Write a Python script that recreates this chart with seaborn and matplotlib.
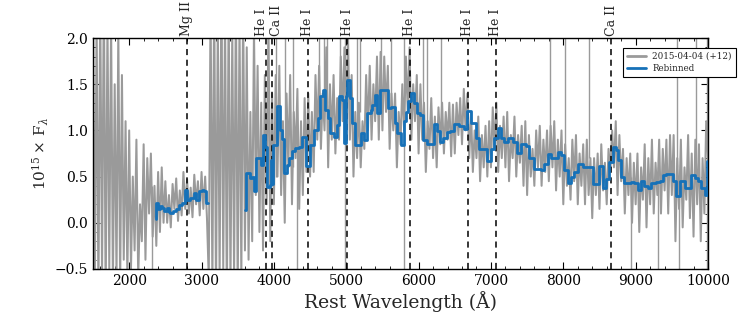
import numpy as np
import pandas as pd
import matplotlib
matplotlib.use('Agg')
import matplotlib.pyplot as plt
import seaborn as sns
from matplotlib.ticker import MultipleLocator

# ---------------- data ----------------
# observed spectrum, 25 A sampling 1500..10000
gray_wave = np.arange(1500, 10001, 25)
gray_flux = (
    [2.3, -0.7, 2.2, -0.8, 2.4, -0.6, 2.6, -0.9, 2.2, -0.5, 2.2, -0.7, 1.5, -0.6, 2.1, -0.7, 1.6, -0.4, 1.1, -0.6]
    + [1.0, -0.5, 0.5, -0.3, 0.9, -0.6, 0.2, -0.2, 0.85, -0.4, 0.7, 0.1, 0.75, -0.15, 0.4, -0.25, 0.55, -0.1, 0.6, 0.0]
    + [0.45, 0.0, 0.3, -0.05, 0.42, 0.15, 0.48, 0.02, 0.35, 0.08, 0.55, 0.15, 0.47, 0.1, 0.38, 0.06, 0.52, 0.2, 0.45, 0.08]
    + [0.55, 0.15, 0.5, 0.05, -0.6, 2.4, -0.7, 2.5, -0.8, 2.2, -0.6, 2.6, -0.5, 2.3, -0.9, 2.4, -0.7, 2.1, -0.6, 2.5]
    + [-0.8, 2.2, -0.6, 2.4, -0.3, 1.9, -0.4, 1.2, -0.2, 2.1, 0.3, 1.7, -0.1, 1.3, -0.3, 1.6, 0.2, 2.2, -0.2, 1.4]
    + [0.2, 1.6, 0.5, 1.7, 0.3, 1.1, 0.0, 1.4, 0.6, 1.6, 0.2, 1.2, 0.7, 1.45, 0.15, 1.1, 0.3, 1.35, 0.55, 1.4]
    + [0.5, 1.2, 0.55, 1.6, 0.9, 1.7, 0.8, 1.4, 1.0, 1.9, 0.6, 1.5, 0.9, 1.6, 0.75, 1.35, 0.9, 1.8, 1.1, 1.9]
    + [1.0, 2.0, 0.9, 1.6, 0.5, 1.2, 0.7, 1.3, 0.6, 1.1, 0.8, 1.6, 1.0, 1.7, 0.9, 1.5, 1.1, 1.8, 0.9, 1.85]
    + [1.0, 1.8, 1.2, 1.7, 0.8, 1.4, 1.0, 1.4, 0.6, 1.2, 0.85, 1.5, 1.0, 1.8, 1.2, 1.9, 0.9, 1.5, 1.1, 1.6]
    + [0.75, 1.5, 0.9, 1.3, 0.55, 1.1, 0.8, 1.35, 0.7, 1.15, 0.6, 1.25, 0.85, 1.3, 0.75, 1.2, 0.9, 1.3, 0.72, 1.28]
    + [0.75, 1.3, 0.95, 1.35, 0.85, 1.45, 1.0, 1.4, 0.7, 1.2, 0.55, 1.0, 0.7, 1.15, 0.45, 0.95, 0.6, 1.05, 0.5, 1.1]
    + [0.6, 1.25, 0.8, 1.3, 0.55, 1.05, 0.7, 1.15, 0.6, 1.2, 0.45, 0.95, 0.7, 1.15, 0.5, 0.95, 0.65, 1.05, 0.4, 1.1]
    + [0.3, 0.95, 0.5, 0.8, 0.4, 1.0, 0.6, 1.05, 0.4, 0.9, 0.55, 1.0, 0.45, 1.05, 0.6, 1.1, 0.35, 0.9, 0.5, 1.0]
    + [0.2, 0.85, 0.4, 0.7, 0.25, 0.9, 0.45, 0.95, 0.2, 0.75, 0.4, 0.85, 0.2, 0.9, 0.3, 0.7, 0.05, 0.7, 0.3, 0.75]
    + [0.15, 0.85, 0.35, 0.65, 0.2, 0.8, 0.55, 1.0, 0.6, 1.1, 0.3, 0.95, 0.45, 0.8, 0.1, 0.7, 0.3, 0.75, 0.0, 0.65]
    + [0.2, 0.75, -0.1, 0.6, 0.25, 0.85, -0.05, 0.7, 0.2, 0.9, 0.1, 0.65, 0.3, 0.9, 0.1, 0.8, 0.35, 0.9, 0.1, 0.95]
    + [0.3, 0.95, -0.2, 0.7, 0.15, 0.9, -0.05, 0.6, 0.25, 0.95, 0.05, 0.75, -0.15, 0.9, 0.2, 0.85, -0.2, 0.7, 0.1, 1.1]
    + [0.7]
)

# isolated spikes (sky / cosmic residuals) in the observed spectrum
spike_wave = [2310, 4030, 4155, 4270, 4320, 4630, 4686, 4732, 4917, 4980,
              5147, 5194, 5476, 5614, 5799, 6060, 6121, 6310, 7820, 8023,
              8360, 8937, 9307, 9575, 9600, 9838, 9990]
spike_low = [-0.5, 0.5, 0.6, 0.6, -0.5, 1.2, 1.3, 1.3, 1.3, -0.5,
             1.0, 1.2, 1.3, 1.3, -0.5, 1.0, 1.0, 1.0, 0.8, 0.7,
             0.7, -0.5, -0.5, 0.6, -0.5, 0.6, -0.5]
spike_high = [0.4, 2.0, 2.0, 2.0, 1.0, 2.0, 2.0, 2.0, 2.0, 2.0,
              2.0, 2.0, 2.0, 2.0, 2.0, 2.0, 2.0, 2.0, 2.0, 2.0,
              2.0, 0.5, 0.6, 2.0, 0.3, 2.0, 2.0]

# rebinned spectrum (bin left edges, flux), two segments
reb1_wave = [2368, 2375, 2404, 2430, 2451, 2483, 2520, 2545, 2566, 2603, 2649, 2695,
             2728, 2765, 2806, 2843, 2889, 2926, 2959, 3005, 3040, 3065, 3088]
reb1_flux = [0.04, 0.21, 0.15, 0.18, 0.16, 0.13, 0.16, 0.12, 0.11, 0.13, 0.15, 0.19,
             0.21, 0.36, 0.25, 0.27, 0.32, 0.25, 0.34, 0.35, 0.34, 0.21, 0.21]

reb2_wave = [3605, 3612, 3675, 3700, 3730, 3758, 3822, 3845, 3882, 3905, 3942, 3965, 3975, 3989,
             4044, 4090, 4113, 4136, 4182, 4205, 4251, 4297, 4344, 4390, 4450, 4505, 4551, 4607,
             4644, 4681, 4713, 4745, 4782, 4828, 4866, 4898, 4944, 4967, 4990, 5014, 5050, 5083,
             5115, 5175, 5208, 5245, 5290, 5337, 5360, 5392, 5429, 5466, 5522, 5577, 5623, 5669,
             5706, 5762, 5799, 5830, 5854, 5890, 5937, 5983, 6020, 6066, 6112, 6214, 6251, 6297,
             6343, 6389, 6435, 6491, 6560, 6629, 6675, 6722, 6791, 6837, 6943, 6999, 7045, 7091,
             7137, 7183, 7229, 7299, 7359, 7414, 7483, 7530, 7599, 7691, 7737, 7783, 7830, 7922,
             7968, 8014, 8060, 8107, 8153, 8199, 8268, 8407, 8499, 8545, 8591, 8638, 8684, 8730,
             8762, 8799, 8845, 8891, 8938, 8984, 9030, 9067, 9122, 9168, 9215, 9284, 9330, 9376,
             9422, 9515, 9561, 9607, 9676, 9722, 9769, 9815, 9861, 9907, 9953, 9985, 10020]
reb2_flux = [0.14, 0.54, 0.48, 0.50, 0.34, 0.70, 0.63, 0.95, 0.82, 0.39, 0.41, 0.68, 0.42, 0.84,
             1.26, 1.00, 0.91, 0.54, 0.63, 0.70, 0.78, 0.81, 0.82, 0.93, 0.61, 0.84, 1.00, 1.13,
             1.37, 1.44, 1.22, 1.13, 0.97, 0.93, 1.06, 1.37, 1.33, 0.86, 1.37, 1.545, 1.35, 1.08,
             0.84, 0.84, 0.97, 0.90, 1.19, 1.22, 1.27, 1.38, 1.19, 1.44, 1.44, 1.24, 1.25, 1.08,
             0.97, 0.84, 1.10, 1.20, 1.32, 1.41, 1.30, 1.19, 1.17, 0.90, 0.85, 1.07, 0.99, 0.87,
             0.92, 0.98, 0.99, 1.07, 1.05, 1.01, 1.21, 1.08, 0.92, 0.80, 0.67, 0.80, 0.92, 1.03,
             0.92, 0.87, 0.92, 0.87, 0.76, 0.85, 0.83, 0.70, 0.58, 0.57, 0.64, 0.75, 0.70, 0.77,
             0.73, 0.57, 0.43, 0.50, 0.55, 0.64, 0.60, 0.42, 0.62, 0.38, 0.47, 0.66, 0.82, 0.79,
             0.68, 0.50, 0.43, 0.43, 0.44, 0.43, 0.36, 0.45, 0.40, 0.38, 0.43, 0.44, 0.45, 0.52,
             0.53, 0.45, 0.29, 0.45, 0.38, 0.38, 0.52, 0.49, 0.45, 0.38, 0.30, 0.67, 0.67]

line_names = ['Mg II', 'He I', 'Ca II', 'He I', 'He I', 'He I', 'He I', 'He I', 'Ca II']
line_waves = [2798, 3889, 3969, 4471, 5016, 5876, 6678, 7065, 8662]
label_waves = [2798, 3830, 4030, 4471, 5016, 5876, 6678, 7065, 8662]

spec_label = '2015-04-04 (+12)'
reb_label = 'Rebinned'

# ---------------- style ----------------
sns.set_style('ticks')
plt.rcParams.update({
    'font.family': ['DejaVu Serif'],
    'mathtext.fontset': 'dejavuserif',
    'xtick.direction': 'in', 'ytick.direction': 'in',
    'xtick.top': True, 'ytick.right': True,
    'xtick.major.size': 5, 'ytick.major.size': 5,
    'xtick.minor.size': 2.5, 'ytick.minor.size': 2.5,
    'xtick.color': 'black', 'ytick.color': 'black',
    'axes.edgecolor': 'black', 'axes.linewidth': 1.0,
})

fig, ax = plt.subplots(figsize=(7.47, 3.12), dpi=100)
fig.subplots_adjust(left=0.1245, right=0.9478, bottom=0.138, top=0.878)

gray_color = '#9a9a9a'
blue_color = '#1671b8'

spec_df = pd.DataFrame({'wave': gray_wave, 'flux': gray_flux})
sns.lineplot(data=spec_df, x='wave', y='flux', estimator=None, sort=False,
             color=gray_color, lw=1.45, ax=ax, label=spec_label, zorder=1)
ax.vlines(spike_wave, spike_low, spike_high, color=gray_color, lw=1.0, zorder=1)

for name, w, lw_ in zip(line_names, line_waves, label_waves):
    ax.axvline(w, color='black', ls='--', lw=1.1, zorder=2, dashes=(4, 3))
    ax.text(lw_, 1.01, name, transform=ax.get_xaxis_transform(), rotation=90,
            ha='center', va='bottom', fontsize=9)

reb1_df = pd.DataFrame({'wave': reb1_wave, 'flux': reb1_flux})
reb2_df = pd.DataFrame({'wave': reb2_wave, 'flux': reb2_flux})
sns.lineplot(data=reb1_df, x='wave', y='flux', estimator=None, sort=False,
             drawstyle='steps-post', color=blue_color, lw=2, ax=ax, label=reb_label, zorder=3)
sns.lineplot(data=reb2_df, x='wave', y='flux', estimator=None, sort=False,
             drawstyle='steps-post', color=blue_color, lw=2, ax=ax, zorder=3)

ax.set_xlim(1500, 10000)
ax.set_ylim(-0.5, 2.0)
ax.xaxis.set_major_locator(MultipleLocator(1000))
ax.xaxis.set_minor_locator(MultipleLocator(200))
ax.yaxis.set_major_locator(MultipleLocator(0.5))
ax.yaxis.set_minor_locator(MultipleLocator(0.1))
ax.tick_params(which='both', top=True, right=True, direction='in', labelsize=10)

ax.set_xlabel('Rest Wavelength (Å)', fontsize=13.5, labelpad=2)
ax.set_ylabel(r'$10^{15}\times\,\mathrm{F}_{\lambda}$', fontsize=11, labelpad=3)

handles, labels = ax.get_legend_handles_labels()
leg = ax.legend(handles, labels, loc='upper right', bbox_to_anchor=(1.045, 0.957),
                borderaxespad=0, fontsize=6.3, frameon=True, fancybox=False,
                edgecolor='black', framealpha=1, handlelength=2.2,
                borderpad=0.45, labelspacing=0.35, handletextpad=0.7)
leg.get_frame().set_linewidth(0.8)
for lh in leg.get_lines():
    lh.set_linewidth(2)

fig.savefig('out.png', dpi=100)
